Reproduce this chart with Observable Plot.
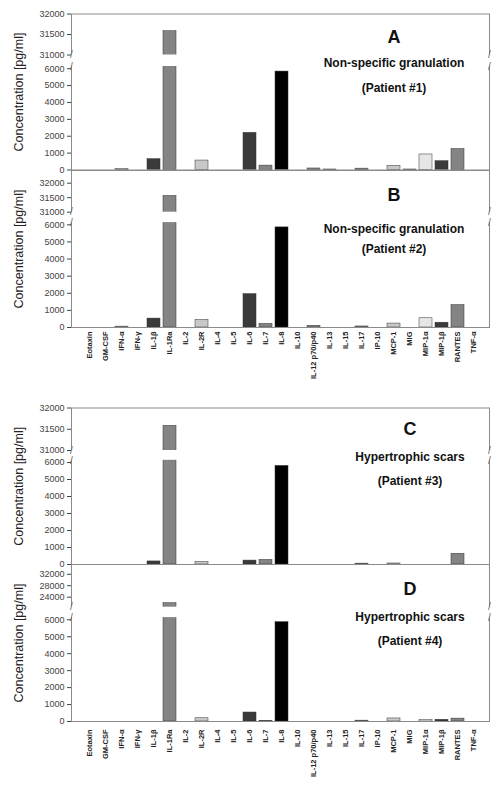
<!DOCTYPE html>
<html><head><meta charset="utf-8">
<script src="https://cdn.jsdelivr.net/npm/d3@7"></script>
<script src="https://cdn.jsdelivr.net/npm/@observablehq/plot@0.6"></script>
<style>
html,body{margin:0;padding:0;background:#fff;overflow:hidden;}
#chart{position:relative;width:503px;height:787px;}
#chart svg{position:absolute;left:0;}
</style></head><body><div id="chart"></div>
<script>
const categories = ["Eotaxin","GM-CSF","IFN-α","IFN-γ","IL-1β","IL-1Ra","IL-2","IL-2R","IL-4","IL-5","IL-6","IL-7","IL-8","IL-10","IL-12 p70/p40","IL-13","IL-15","IL-17","IP-10","MCP-1","MIG","MIP-1α","MIP-1β","RANTES","TNF-α"];
const barColors = ["#848484","#848484","#c8c8c8","#848484","#3a3a3a","#848484","#848484","#c8c8c8","#848484","#848484","#3a3a3a","#848484","#000000","#848484","#848484","#3a3a3a","#848484","#848484","#848484","#c8c8c8","#3a3a3a","#e6e6e6","#3a3a3a","#848484","#848484"];
const patient1 = [0,0,60,0,640,31580,0,560,0,0,2200,260,5830,0,90,30,0,80,0,240,30,920,520,1240,0];
const patient2 = [0,0,50,0,520,31560,0,440,0,0,1950,210,5850,0,100,0,0,60,0,230,0,540,280,1310,0];
const patient3 = [0,0,0,0,180,31580,0,140,0,0,230,270,5800,0,0,0,0,50,0,60,0,0,0,630,0];
const patient4 = [0,0,0,0,0,21900,0,190,0,0,530,40,5860,0,0,0,0,50,0,180,0,90,100,170,0];
const lowerTicks = [0,1000,2000,3000,4000,5000,6000];
const upperTicksABC = [31000,31500,32000];
const upperTicksD = [24000,28000,32000];
const panelLetters = ["A","B","C","D"];
const panelTitles = ["Non-specific granulation","Non-specific granulation","Hypertrophic scars","Hypertrophic scars"];
const panelSubtitles = ["(Patient #1)","(Patient #2)","(Patient #3)","(Patient #4)"];
const yTitle = "Concentration [pg/ml]";

const font = "Arial, 'Liberation Sans', sans-serif";
// broken-axis layout: value breakpoints and their pixel offsets inside each panel's frame
const panels = [
  {values: patient1, top: 0, height: 170, mt: 13.5, mb: 0.5, brk: [0,6130,31000,32000], pos: [169.5,66,54.5,13.5], upper: upperTicksABC, showX: false, anchor: "MCP-1", dys: [23.5,49.5,74.5]},
  {values: patient2, top: 170, height: 210, mt: 0, mb: 53, brk: [0,6130,31000,32438], pos: [157,52.1,41.7,0], upper: upperTicksABC, showX: true, pad: 4, anchor: "MCP-1", dys: [25,59,79]},
  {values: patient3, top: 395, height: 170, mt: 12.5, mb: 1, brk: [0,6130,31000,32000], pos: [169,64.8,55,12.5], upper: upperTicksABC, showX: false, anchor: "MIG", dys: [21.5,49,73.5]},
  {values: patient4, top: 564, height: 223, mt: 0, mb: 66, brk: [0,6130,20500,35410], pos: [157,53.1,42.7,0], upper: upperTicksD, showX: true, pad: 8, anchor: "MIG", dys: [25,52.5,77]}
];

const chart = document.getElementById("chart");
panels.forEach((p, k) => {
  const bottom = p.pos[0];
  const f = d3.scaleLinear().domain(p.brk).range(p.pos.map(v => bottom - v));
  const H = bottom - p.pos[3];
  const data = categories.map((c, i) => ({cat: c, value: p.values[i], color: barColors[i]})).filter(d => d.value > 0);
  const tickVals = [...lowerTicks, ...p.upper];
  const tickLabel = new Map(tickVals.map(t => [f(t), String(t)]));
  const gap = [f(p.brk[1]), f(p.brk[2])];
  const marks = [
    Plot.rectY(data, {x: "cat", y1: 0, y2: d => f(d.value), fill: "color", stroke: "#333", strokeWidth: 0.5}),
    Plot.frame({stroke: "#8a8a8a"}),
    Plot.rect([gap], {y1: d => d[0], y2: d => d[1], fill: "white", insetLeft: -3, insetRight: -3}),
    Plot.text(gap, {y: d => d, text: () => "/", frameAnchor: "left", textAnchor: "middle", fontSize: 10, fill: "#666"}),
    Plot.text(gap, {y: d => d, text: () => "/", frameAnchor: "right", textAnchor: "middle", fontSize: 10, fill: "#666"}),
    Plot.axisY({ticks: tickVals.map(f), tickFormat: d => tickLabel.get(d), tickSize: 4, tickPadding: 3, fontSize: 9, color: "#444", label: null}),
    Plot.text([yTitle], {text: d => d, frameAnchor: "left", textAnchor: "middle", lineAnchor: "middle", dx: -53, rotate: -90, fontSize: 12.5, fill: "#222"}),
    Plot.text([panelLetters[k]], {text: d => d, x: () => p.anchor, frameAnchor: "top", lineAnchor: "middle", dy: p.dys[0], fontSize: 18, fontWeight: "bold", fill: "#111"}),
    Plot.text([panelTitles[k]], {text: d => d, x: () => p.anchor, frameAnchor: "top", lineAnchor: "middle", dy: p.dys[1], fontSize: 12, fontWeight: "bold", fill: "#111"}),
    Plot.text([panelSubtitles[k]], {text: d => d, x: () => p.anchor, frameAnchor: "top", lineAnchor: "middle", dy: p.dys[2], fontSize: 12, fontWeight: "bold", fill: "#111"})
  ];
  if (p.showX) marks.push(Plot.axisX({tickRotate: -90, tickSize: 0, tickPadding: p.pad, fontSize: 7.5, fontWeight: "bold", color: "#222", label: null}));
  const svg = Plot.plot({
    width: 503, height: p.height,
    marginLeft: 71, marginRight: 14, marginTop: p.mt, marginBottom: p.mb,
    style: {background: "transparent", fontFamily: font, overflow: "visible"},
    x: {domain: categories, range: [79, 483], padding: 0.2, axis: p.showX ? undefined : null},
    y: {domain: [0, H]},
    marks
  });
  svg.style.top = p.top + "px";
  chart.appendChild(svg);
});
</script></body></html>
